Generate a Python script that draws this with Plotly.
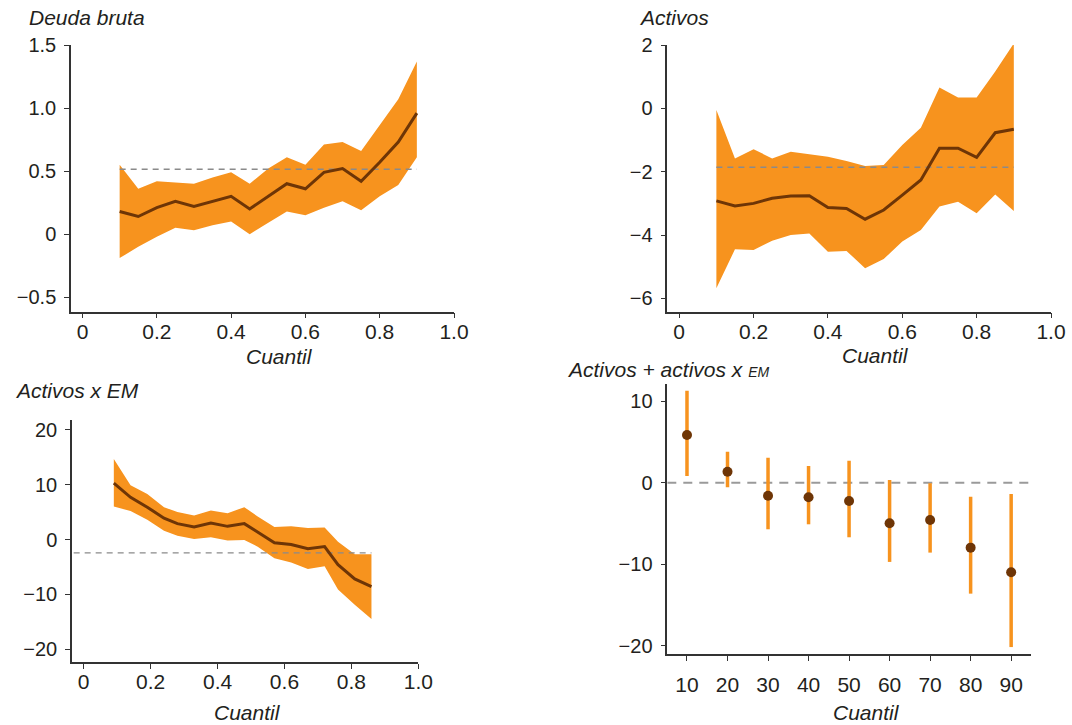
import plotly.graph_objects as go

# ---- Deuda bruta ----
q_deuda = [0.10, 0.15, 0.20, 0.25, 0.30, 0.35, 0.40, 0.45, 0.50, 0.55, 0.60, 0.65, 0.70, 0.75, 0.80, 0.85, 0.90]
deuda_est = [0.18, 0.14, 0.21, 0.26, 0.22, 0.26, 0.30, 0.20, 0.30, 0.40, 0.36, 0.49, 0.52, 0.42, 0.57, 0.73, 0.96]
deuda_hi = [0.55, 0.36, 0.42, 0.41, 0.40, 0.45, 0.49, 0.40, 0.52, 0.61, 0.55, 0.71, 0.73, 0.66, 0.86, 1.07, 1.37]
deuda_lo = [-0.19, -0.10, -0.02, 0.05, 0.03, 0.07, 0.10, 0.00, 0.09, 0.18, 0.15, 0.21, 0.26, 0.19, 0.30, 0.39, 0.61]
deuda_ref = 0.515

# ---- Activos ----
q_activos = [0.10, 0.15, 0.20, 0.25, 0.30, 0.35, 0.40, 0.45, 0.50, 0.55, 0.60, 0.65, 0.70, 0.75, 0.80, 0.85, 0.90]
activos_est = [-2.92, -3.08, -3.00, -2.84, -2.77, -2.76, -3.13, -3.16, -3.50, -3.21, -2.74, -2.26, -1.26, -1.26, -1.55, -0.77, -0.66]
activos_hi = [-0.05, -1.58, -1.29, -1.58, -1.37, -1.44, -1.53, -1.66, -1.82, -1.79, -1.16, -0.61, 0.66, 0.34, 0.34, 1.16, 2.05]
activos_lo = [-5.68, -4.45, -4.47, -4.18, -4.00, -3.95, -4.53, -4.50, -5.05, -4.76, -4.20, -3.84, -3.10, -2.95, -3.31, -2.72, -3.24]
activos_ref = -1.86

# ---- Activos x EM ----
q_em = [0.09, 0.14, 0.19, 0.24, 0.28, 0.33, 0.38, 0.43, 0.48, 0.52, 0.57, 0.62, 0.67, 0.72, 0.76, 0.81, 0.86]
em_est = [10.3, 7.7, 5.9, 3.9, 2.9, 2.3, 3.0, 2.4, 2.9, 1.4, -0.6, -0.9, -1.7, -1.3, -4.6, -7.2, -8.6]
em_hi = [14.7, 9.9, 8.3, 5.9, 5.0, 4.4, 5.3, 4.8, 5.9, 4.2, 2.3, 2.4, 2.1, 2.2, -0.4, -2.7, -2.7]
em_lo = [6.0, 5.2, 3.6, 1.6, 0.7, 0.1, 0.4, -0.2, -0.1, -1.3, -3.4, -4.2, -5.4, -4.9, -9.1, -11.9, -14.5]
em_ref = -2.43

# ---- Activos + activos x EM ----
cuantiles = [10, 20, 30, 40, 50, 60, 70, 80, 90]
suma_est = [5.84, 1.35, -1.59, -1.79, -2.24, -4.97, -4.57, -7.96, -10.97]
suma_hi = [11.26, 3.80, 3.06, 2.04, 2.69, 0.33, -0.08, -1.71, -1.38]
suma_lo = [0.82, -0.57, -5.71, -5.10, -6.69, -9.71, -8.57, -13.60, -20.15]

ORANGE = "#F7931E"
BROWN = "#6E3506"
AXIS = "#333333"
DASH = "#8A8A8A"
TEXT = "#231F20"
FONT = "Liberation Sans, Arial, Helvetica, sans-serif"

W, H = 1072, 725


def dom_x(a, b):
    return [a / W, b / W]


def dom_y(top, bottom):
    return [1 - bottom / H, 1 - top / H]


fig = go.Figure()


def band_panel(n, q, est, hi, lo, ref, ref_x):
    xa = "x" if n == 1 else f"x{n}"
    ya = "y" if n == 1 else f"y{n}"
    fig.add_trace(go.Scatter(x=q, y=lo, mode="lines", line=dict(width=0, color=ORANGE),
                             hoverinfo="skip", showlegend=False, xaxis=xa, yaxis=ya))
    fig.add_trace(go.Scatter(x=q, y=hi, mode="lines", line=dict(width=0, color=ORANGE),
                             fill="tonexty", fillcolor=ORANGE, hoverinfo="skip",
                             showlegend=False, xaxis=xa, yaxis=ya))
    fig.add_trace(go.Scatter(x=ref_x, y=[ref, ref], mode="lines",
                             line=dict(color=DASH, width=1.4, dash="6px,5px"),
                             hoverinfo="skip", showlegend=False, xaxis=xa, yaxis=ya))
    fig.add_trace(go.Scatter(x=q, y=est, mode="lines", line=dict(color=BROWN, width=3),
                             showlegend=False, xaxis=xa, yaxis=ya))


band_panel(1, q_deuda, deuda_est, deuda_hi, deuda_lo, deuda_ref, [q_deuda[0], q_deuda[-1]])
band_panel(2, q_activos, activos_est, activos_hi, activos_lo, activos_ref, [q_activos[0], q_activos[-1]])
band_panel(3, q_em, em_est, em_hi, em_lo, em_ref, [-0.03, q_em[-1]])

# point estimates with intervals
fig.add_trace(go.Scatter(x=[5.14, 94.9], y=[0, 0], mode="lines",
                         line=dict(color="#9A9A9A", width=2, dash="9px,7px"),
                         hoverinfo="skip", showlegend=False, xaxis="x4", yaxis="y4"))
fig.add_trace(go.Scatter(
    x=cuantiles, y=suma_est, mode="markers",
    marker=dict(color=BROWN, size=10),
    error_y=dict(type="data", symmetric=False,
                 array=[h - e for h, e in zip(suma_hi, suma_est)],
                 arrayminus=[e - l for e, l in zip(suma_est, suma_lo)],
                 color=ORANGE, thickness=3.5, width=0),
    showlegend=False, xaxis="x4", yaxis="y4"))

axis_common = dict(showline=True, linecolor=AXIS, linewidth=1.5, ticks="outside",
                   ticklen=5, tickwidth=1.2, tickcolor=AXIS, showgrid=False,
                   zeroline=False, mirror=False, fixedrange=True, automargin=False)
xtick_font = dict(family=FONT, size=21, color=TEXT)
ytick_font = dict(family=FONT, size=20, color=TEXT)

qx_vals = [0, 0.2, 0.4, 0.6, 0.8, 1.0]
qx_text = ["0", "0.2", "0.4", "0.6", "0.8", "1.0"]

fig.update_layout(
    width=W, height=H, margin=dict(l=0, r=0, t=0, b=0, autoexpand=False),
    paper_bgcolor="white", plot_bgcolor="white", showlegend=False,
    xaxis=dict(domain=dom_x(71, 454), range=[-0.031, 1.0], anchor="y",
               tickvals=qx_vals, ticktext=qx_text, tickfont=xtick_font,
               ticklabelstandoff=-5, **axis_common),
    yaxis=dict(domain=dom_y(45, 311.7), range=[-0.615, 1.5], anchor="x",
               tickvals=[-0.5, 0, 0.5, 1.0, 1.5], ticktext=["\u22120.5", "0", "0.5", "1.0", "1.5"],
               tickfont=ytick_font, ticklabelstandoff=4, **axis_common),
    xaxis2=dict(domain=dom_x(667.3, 1051), range=[-0.032, 1.0], anchor="y2",
                tickvals=qx_vals, ticktext=qx_text, tickfont=xtick_font,
                ticklabelstandoff=-5, **axis_common),
    yaxis2=dict(domain=dom_y(45, 311.7), range=[-6.42, 2.0], anchor="x2",
                tickvals=[-6, -4, -2, 0, 2], ticktext=["\u22126", "\u22124", "\u22122", "0", "2"],
                tickfont=ytick_font, ticklabelstandoff=4, **axis_common),
    xaxis3=dict(domain=dom_x(72, 418.3), range=[-0.035, 1.0], anchor="y3",
                tickvals=qx_vals, ticktext=qx_text, tickfont=xtick_font,
                ticklabelstandoff=-5, **axis_common),
    yaxis3=dict(domain=dom_y(420, 662.3), range=[-22.4, 21.8], anchor="x3",
                tickvals=[-20, -10, 0, 10, 20], ticktext=["\u221220", "\u221210", "0", "10", "20"],
                tickfont=ytick_font, ticklabelstandoff=4, **axis_common),
    xaxis4=dict(domain=dom_x(667.3, 1031), range=[5.14, 94.9], anchor="y4",
                tickvals=cuantiles, ticktext=[str(c) for c in cuantiles],
                tickfont=xtick_font, ticklabelstandoff=6, **axis_common),
    yaxis4=dict(domain=dom_y(384, 654), range=[-21.0, 12.1], anchor="x4",
                tickvals=[-20, -10, 0, 10], ticktext=["\u221220", "\u221210", "0", "10"],
                tickfont=ytick_font, ticklabelstandoff=4, **axis_common),
)

title_font = dict(family=FONT, size=21, color=TEXT)


def label(text, px, py, xanchor="left"):
    fig.add_annotation(text=text, x=px / W, y=1 - py / H, xref="paper", yref="paper",
                       xanchor=xanchor, yanchor="middle", showarrow=False, font=title_font)


label("<i>Deuda bruta</i>", 27, 17.5)
label("<i>Activos</i>", 637, 17.5)
label("<i>Activos x EM</i>", 13, 390.5)
label("<i>Activos + activos x <span style='font-size:14px'>EM</span></i>", 565, 369)
label("<i>Cuantil</i>", 279, 356, "center")
label("<i>Cuantil</i>", 875, 355, "center")
label("<i>Cuantil</i>", 247, 712.5, "center")
label("<i>Cuantil</i>", 866, 712.5, "center")

fig.write_html("out.html")
